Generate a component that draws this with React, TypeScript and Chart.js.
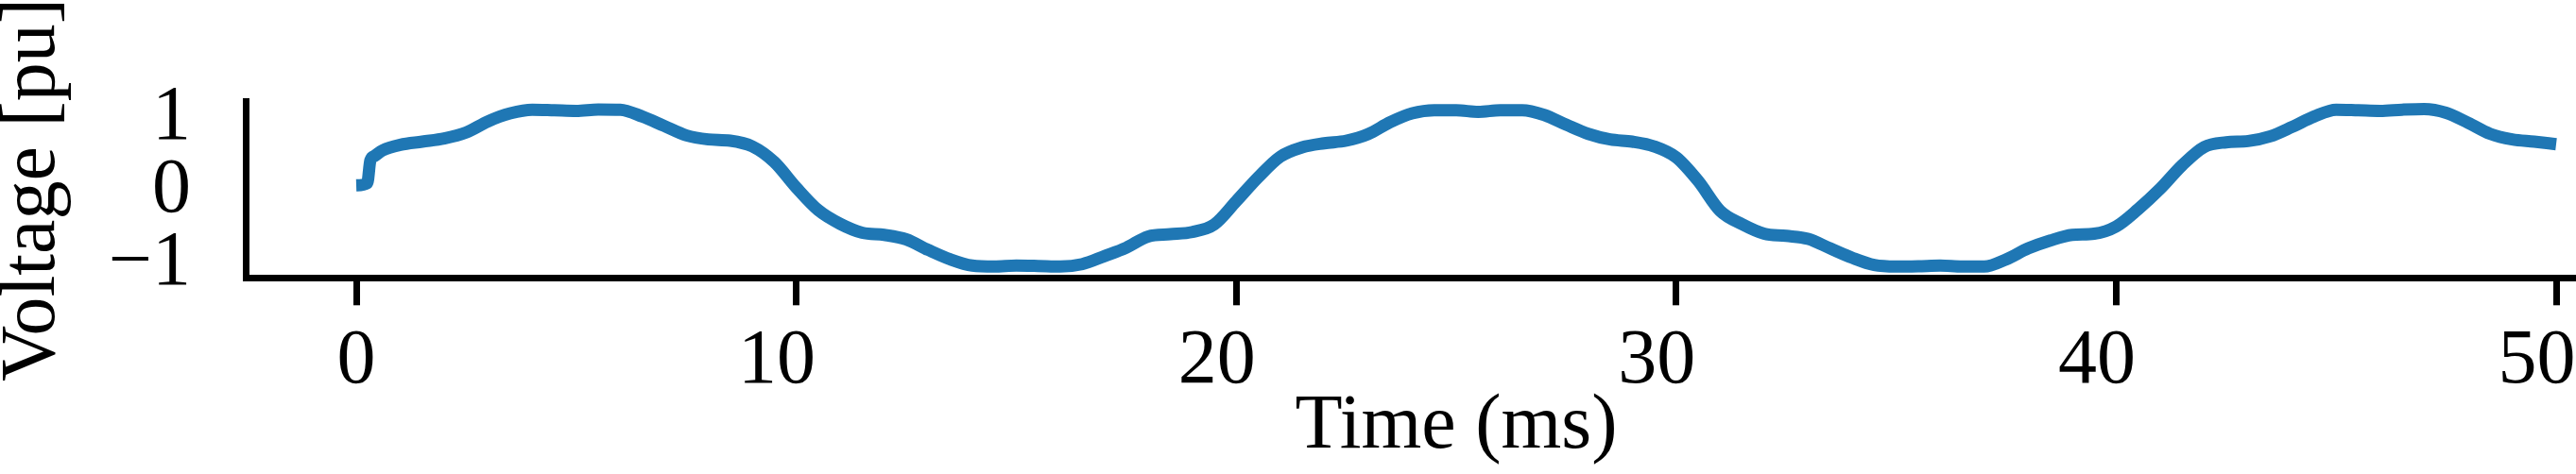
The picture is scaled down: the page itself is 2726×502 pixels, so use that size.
import { useEffect, useRef } from "react";
import { Chart, registerables } from "chart.js";

Chart.register(...registerables);

const timeMs = [
  0, 0.25, 0.32, 0.42, 0.6, 1.0, 1.5, 2.0, 2.5, 3.0, 3.5, 4.0, 4.5, 5.0, 5.5, 6.0, 6.5, 7.0, 7.5, 8.0, 8.5, 9.0, 9.5,
  10.0, 10.5, 11.0, 11.5, 12.0, 12.5, 13.0, 13.5, 14.0, 14.5, 15.0, 15.5, 16.0, 16.5, 17.0, 17.5, 18.0, 18.5, 19.0, 19.5,
  20.0, 20.5, 21.0, 21.5, 22.0, 22.5, 23.0, 23.5, 24.0, 24.5, 25.0, 25.5, 26.0, 26.5, 27.0, 27.5, 28.0, 28.5, 29.0, 29.5,
  30.0, 30.5, 31.0, 31.5, 32.0, 32.5, 33.0, 33.5, 34.0, 34.5, 35.0, 35.5, 36.0, 36.5, 37.0, 37.5, 38.0, 38.5, 39.0, 39.5,
  40.0, 40.5, 41.0, 41.5, 42.0, 42.5, 43.0, 43.5, 44.0, 44.5, 45.0, 45.5, 46.0, 46.5, 47.0, 47.5, 48.0, 48.5, 49.0, 49.5,
  50.0,
];

const voltagePu = [
  0.04, 0.07, 0.38, 0.445, 0.52, 0.596, 0.639, 0.682, 0.765, 0.918, 1.026, 1.077, 1.069, 1.06, 1.08, 1.077, 0.983, 0.854, 0.725, 0.67, 0.652, 0.574, 0.36,
  0.01, -0.3, -0.488, -0.609, -0.639, -0.7, -0.845, -0.974, -1.06, -1.073, -1.06, -1.065, -1.073, -1.04, -0.931, -0.815, -0.66, -0.63, -0.6, -0.497,
  -0.178, 0.15, 0.432, 0.561, 0.617, 0.652, 0.742, 0.905, 1.026, 1.069, 1.069, 1.047, 1.069, 1.069, 1.004, 0.871, 0.746, 0.669, 0.639, 0.574,
  0.424, 0.1, -0.31, -0.493, -0.622, -0.652, -0.695, -0.824, -0.953, -1.052, -1.073, -1.069, -1.06, -1.073, -1.073, -0.974, -0.824, -0.716, -0.639, -0.622,
  -0.523, -0.286, -0.007, 0.316, 0.566, 0.63, 0.647, 0.712, 0.841, 0.983, 1.077, 1.069, 1.06, 1.077, 1.086, 1.034, 0.897, 0.746, 0.669, 0.639,
  0.604,
];

const xTickValues = [0, 10, 20, 30, 40, 50];
// two-digit labels sit slightly left of their ticks in the reference (trailing spaces)
const xTickLabels = ["0", "10  ", "20  ", "30  ", "40  ", "50  "];
const yTickValues = [-1, 0, 1];
const yTickLabels = ["\u22121", "0", "1"];
const xAxisTitle = "Time (ms)";
const yAxisTitle = "Voltage [pu]";
const seriesColor = "#1f77b4";

export default function App() {
  const ref = useRef<HTMLCanvasElement>(null);

  useEffect(() => {
    const canvas = ref.current;
    if (!canvas) return;
    const family = "'Liberation Serif', 'Times New Roman', Times, serif";
    const fontSize = 82;

    const chart = new Chart(canvas, {
      type: "line",
      data: {
        datasets: [
          {
            data: timeMs.map((t, i) => ({ x: t, y: voltagePu[i] })),
            borderColor: seriesColor,
            backgroundColor: seriesColor,
            borderWidth: 13,
            pointRadius: 0,
            fill: false,
            cubicInterpolationMode: "monotone",
            borderCapStyle: "butt",
            borderJoinStyle: "round",
          },
        ],
      },
      options: {
        responsive: false,
        animation: false,
        devicePixelRatio: 1,
        layout: { padding: { top: 107.6, right: 8.6, left: 0, bottom: 0 } },
        plugins: { legend: { display: false }, tooltip: { enabled: false } },
        scales: {
          x: {
            type: "linear",
            min: -2.5,
            max: 52.5,
            afterFit: (s: any) => {
              s.height = 207.7;
            },
            afterBuildTicks: (s: any) => {
              s.ticks = xTickValues.map((v) => ({ value: v }));
            },
            grid: {
              drawOnChartArea: false,
              drawTicks: true,
              tickLength: 29,
              tickWidth: 7,
              tickColor: "#000",
              lineWidth: 7,
              color: "#000",
            },
            border: { display: true, color: "#000", width: 7 },
            ticks: {
              padding: 10.8,
              color: "#000",
              maxRotation: 0,
              autoSkip: false,
              font: { family, size: fontSize, lineHeight: 1.2 },
              callback: (v: any) => {
                const i = xTickValues.indexOf(Number(v));
                return i >= 0 ? xTickLabels[i] : "";
              },
            },
            title: {
              display: true,
              text: xAxisTitle,
              color: "#000",
              font: { family, size: fontSize, lineHeight: 1.2 },
              padding: { top: 0, bottom: 0 },
            },
          },
          y: {
            type: "linear",
            min: -1.228,
            max: 1.185,
            afterFit: (s: any) => {
              s.width = 260.6;
            },
            afterBuildTicks: (s: any) => {
              s.ticks = yTickValues.map((v) => ({ value: v }));
            },
            grid: {
              drawOnChartArea: false,
              drawTicks: false,
              lineWidth: 0,
            },
            border: { display: true, color: "#000", width: 7 },
            ticks: {
              padding: 58.6,
              labelOffset: 3,
              color: "#000",
              autoSkip: false,
              font: { family, size: fontSize, lineHeight: 1.2 },
              callback: (v: any) => {
                const i = yTickValues.indexOf(Number(v));
                return i >= 0 ? yTickLabels[i] : "";
              },
            },
            title: {
              display: true,
              text: yAxisTitle,
              color: "#000",
              font: { family, size: fontSize, lineHeight: 0.8 },
              padding: { top: 2.5, bottom: 0 },
            },
          },
        },
      },
    } as any);

    return () => chart.destroy();
  }, []);

  return (
    <div
      style={{
        position: "absolute",
        left: 0,
        top: 0,
        width: 2726,
        height: 502,
        overflow: "hidden",
        background: "#fff",
      }}
    >
      <canvas ref={ref} width={2830} height={502} style={{ display: "block" }} />
    </div>
  );
}
